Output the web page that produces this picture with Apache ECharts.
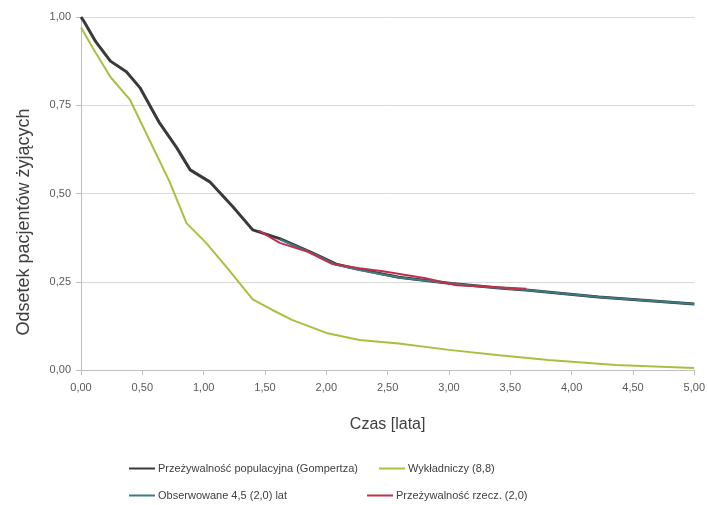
<!DOCTYPE html>
<html><head><meta charset="utf-8">
<script src="https://cdn.jsdelivr.net/npm/echarts@6/dist/echarts.min.js"></script>
<style>html,body{margin:0;padding:0;background:#fff}#c{width:708px;height:505px}</style>
</head><body><div id="c"></div>
<script>
var seriesNames = ['Przeżywalność populacyjna (Gompertza)', 'Wykładniczy (8,8)', 'Obserwowane 4,5 (2,0) lat', 'Przeżywalność rzecz. (2,0)'];
var yTicks = [0, 0.25, 0.5, 0.75, 1.0];

var darkT = [0, 0.02, 0.12, 0.24, 0.37, 0.48, 0.64, 0.78, 0.89, 1.05, 1.24, 1.40, 1.62, 1.89, 2.08, 2.27, 2.59, 3.02, 3.41, 3.65, 4.22, 5.0];
var darkV = [1.00, 0.99, 0.93, 0.875, 0.845, 0.80, 0.70, 0.63, 0.567, 0.533, 0.462, 0.397, 0.372, 0.331, 0.30, 0.285, 0.263, 0.245, 0.232, 0.226, 0.207, 0.187];

var greenT = [0, 0.1, 0.24, 0.40, 0.56, 0.72, 0.86, 1.02, 1.19, 1.40, 1.56, 1.72, 2.0, 2.27, 2.59, 3.0, 3.41, 3.81, 4.36, 5.0];
var greenV = [0.97, 0.91, 0.83, 0.765, 0.65, 0.535, 0.416, 0.36, 0.29, 0.20, 0.17, 0.142, 0.105, 0.085, 0.075, 0.057, 0.042, 0.028, 0.014, 0.006];

var tealT = [1.62, 1.89, 2.08, 2.27, 2.59, 3.02, 3.41, 3.65, 4.22, 5.0];
var tealV = [0.37, 0.33, 0.298, 0.283, 0.262, 0.245, 0.232, 0.226, 0.207, 0.187];

var redT = [1.45, 1.62, 1.85, 2.05, 2.27, 2.46, 2.81, 3.06, 3.35, 3.63];
var redV = [0.395, 0.36, 0.335, 0.30, 0.288, 0.28, 0.26, 0.24, 0.235, 0.23];

function pairs(t, v) { return t.map(function (x, i) { return [x, v[i]]; }); }
var colors = ['#3a3a3a', '#a8c040', '#3c7a84', '#c0304d'];
var font = 'Liberation Sans';

function fmt(v) { return v.toFixed(2).replace('.', ','); }

function mkLegend(i, left, top) {
  return {
    data: [seriesNames[i]], left: left, top: top, icon: 'rect', itemWidth: 26, itemHeight: 2,
    itemGap: 4, textStyle: { fontFamily: font, fontSize: 11, color: '#404040', padding: [0, 0, 0, -2] }
  };
}

var chart = echarts.init(document.getElementById('c'));
chart.setOption({
  animation: false,
  color: colors,
  grid: { left: 81, right: 12, top: 17, bottom: 135, containLabel: false },
  xAxis: {
    type: 'value', min: 0, max: 5, interval: 0.5,
    name: 'Czas [lata]', nameLocation: 'middle', nameGap: 47,
    nameTextStyle: { fontFamily: font, fontSize: 16, color: '#404040' },
    axisLine: { show: true, lineStyle: { color: '#bfbfbf', width: 1 } },
    axisTick: { show: true, length: 5, lineStyle: { color: '#bfbfbf' } },
    axisLabel: { formatter: fmt, fontFamily: font, fontSize: 11, color: '#595959', margin: 12 },
    splitLine: { show: false }
  },
  yAxis: {
    type: 'value', min: 0, max: 1, interval: 0.25,
    axisLine: { show: true, lineStyle: { color: '#bfbfbf', width: 1 } },
    axisTick: { show: true, length: 5, lineStyle: { color: '#bfbfbf' } },
    axisLabel: { formatter: fmt, fontFamily: font, fontSize: 11, color: '#595959', margin: 10 },
    splitLine: { show: true, lineStyle: { color: '#d9d9d9', width: 1 } }
  },
  graphic: [{
    type: 'text', x: 24, y: 222, rotation: Math.PI / 2,
    style: { text: 'Odsetek pacjentów żyjących', fontFamily: font, fontSize: 18, fill: '#404040',
      textAlign: 'center', textVerticalAlign: 'middle' }
  }],
  legend: [
    mkLegend(0, 124, 458),
    mkLegend(1, 374, 458),
    mkLegend(2, 124, 485),
    mkLegend(3, 362, 485)
  ],
  series: [
    { name: seriesNames[0], type: 'line', data: pairs(darkT, darkV), symbol: 'none', lineStyle: { width: 3, color: colors[0] }, z: 2 },
    { name: seriesNames[1], type: 'line', data: pairs(greenT, greenV), symbol: 'none', lineStyle: { width: 2, color: colors[1] }, z: 3 },
    { name: seriesNames[2], type: 'line', data: pairs(tealT, tealV), symbol: 'none', lineStyle: { width: 2, color: colors[2] }, z: 4 },
    { name: seriesNames[3], type: 'line', data: pairs(redT, redV), symbol: 'none', lineStyle: { width: 2, color: colors[3] }, z: 5 }
  ]
});
</script></body></html>
